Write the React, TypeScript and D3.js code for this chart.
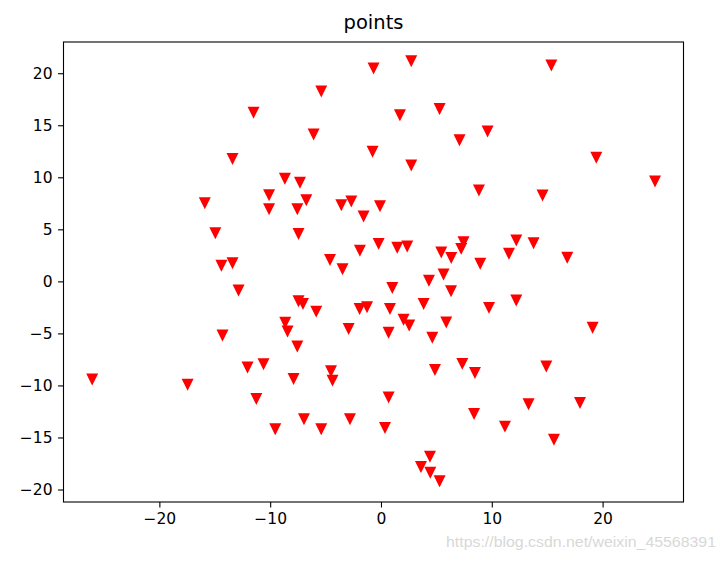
import * as d3 from "d3";
import { useEffect, useRef } from "react";

// point coordinates
const xs = [
  -13.4, -15.9, -14.95, -14.4, -13.4, 2.73, -0.67, -5.39, -11.5, 1.71, 5.29,
  -6.08, 7.09, -0.76, 2.73, -8.67, -7.31, -10.1, -10.1, -6.74, -7.55, -3.58,
  -2.68, -1.57, -0.09, -7.44, -4.6, -3.47, -1.9, -0.21, 1.47, 2.37, 4.33, 5.44,
  6.34, 5.65, 7.24, 7.45, 15.37, 9.62, 19.43, 24.73, 8.84, 14.58, 12.21, 13.77,
  11.55, 16.81, 8.96, -12.85, -14.3, -26.06, -17.45, 1.02, 6.32, -7.44, -7.04,
  -5.84, -1.93, -1.26, 0.81, 3.85, 2.04, 2.55, 5.89, -8.64, -8.43, -2.92, 0.69,
  4.63, -7.55, -12.04, -10.6, -7.89, -4.51, -4.37, 4.87, 7.34, -11.25, 0.69,
  -6.95, -2.8, -9.54, -5.39, 0.36, 4.42, 3.61, 4.45, 5.29, 9.75, 12.21, 19.1,
  8.48, 14.92, 8.4, 13.32, 17.96, 11.19, 15.61,
];
const ys = [
  11.8, 7.56, 4.67, 1.54, 1.79, 21.2, 20.5, 18.3, 16.25, 16.0, 16.6, 14.16,
  13.6, 12.5, 11.18, 9.9, 9.52, 8.33, 6.98, 7.85, 6.98, 7.37, 7.72, 6.28, 7.27,
  4.61, 2.11, 1.21, 3.0, 3.65, 3.27, 3.39, 0.1, 2.82, 2.3, 0.7, 3.17, 3.8, 20.8,
  14.45, 11.92, 9.64, 8.78, 8.3, 3.97, 3.71, 2.69, 2.31, 1.73, -0.84, -5.16,
  -9.39, -9.88, -0.58, -0.9, -1.87, -2.12, -2.86, -2.6, -2.44, -2.6, -2.12,
  -3.65, -4.2, -3.91, -3.94, -4.78, -4.52, -4.9, -5.36, -6.22, -8.24, -7.92,
  -9.33, -8.6, -9.49, -8.46, -7.88, -11.25, -11.1, -13.2, -13.2, -14.17,
  -14.17, -14.04, -16.8, -17.8, -18.34, -19.17, -2.5, -1.8, -4.42, -8.75,
  -8.14, -12.7, -11.77, -11.63, -13.91, -15.16,
];
const xTicks = [-20, -10, 0, 10, 20];
const yTicks = [-20, -15, -10, -5, 0, 5, 10, 15, 20];
const title = "points";

export default function App() {
  const ref = useRef(null);
  const width = 723;
  const height = 561;
  const margin = { top: 42, right: 39.5, bottom: 59, left: 63.5 };
  const w = width - margin.left - margin.right;
  const h = height - margin.top - margin.bottom;

  useEffect(() => {
    draw();
  });

  function draw() {
    const svg = d3.select(ref.current);
    svg.selectAll("*").remove();

    svg.append("rect").attr("width", width).attr("height", height).attr("fill", "#fff");

    const plot = svg
      .append("g")
      .attr("transform", "translate(" + margin.left + "," + margin.top + ")");

    const x = d3.scaleLinear().domain([-28.65, 27.3]).range([0, w]);
    const y = d3.scaleLinear().domain([-21.2, 23.0]).range([h, 0]);

    const font = "'DejaVu Sans', sans-serif";

    // axes
    const xa = plot
      .append("g")
      .attr("transform", "translate(0," + h + ")")
      .call(d3.axisBottom(x).tickValues(xTicks).tickSize(5.5).tickPadding(5.5).tickSizeOuter(0));
    const ya = plot
      .append("g")
      .call(d3.axisLeft(y).tickValues(yTicks).tickSize(5.5).tickPadding(5.5).tickSizeOuter(0));
    [xa, ya].forEach((a) => {
      a.select(".domain").remove();
      a.selectAll("line").attr("stroke", "#000").attr("stroke-width", 1.1);
      a.selectAll("text")
        .attr("fill", "#000")
        .style("font-family", font)
        .style("font-size", "15.5px");
    });

    // points
    const s = 4.7;
    const tri = `M0,${s}L${-s},${-s}L${s},${-s}Z`;
    plot
      .append("g")
      .selectAll("path")
      .data(xs.map((d, i) => [d, ys[i]]))
      .enter()
      .append("path")
      .attr("d", tri)
      .attr("transform", (d) => "translate(" + x(d[0]) + "," + y(d[1]) + ")")
      .attr("fill", "#ff0000")
      .attr("stroke", "#ff0000")
      .attr("stroke-width", 1.6);

    // frame
    plot
      .append("rect")
      .attr("width", w)
      .attr("height", h)
      .attr("fill", "none")
      .attr("stroke", "#000")
      .attr("stroke-width", 1.1);

    // title
    svg
      .append("text")
      .attr("x", margin.left + w / 2)
      .attr("y", 29)
      .attr("text-anchor", "middle")
      .style("font-family", font)
      .style("font-size", "19.5px")
      .attr("fill", "#000")
      .text(title);

    // watermark
    svg
      .append("text")
      .attr("x", 446)
      .attr("y", 547)
      .attr("textLength", 270)
      .attr("lengthAdjust", "spacingAndGlyphs")
      .style("font-family", "'Liberation Sans Narrow', 'Liberation Sans', sans-serif")
      .style("font-size", "15px")
      .attr("fill", "#d8d8d8")
      .text("https://blog.csdn.net/weixin_45568391");
  }

  return (
    <svg
      ref={ref}
      width={width}
      height={height}
      style={{ position: "fixed", left: 0, top: 0 }}
    ></svg>
  );
}
